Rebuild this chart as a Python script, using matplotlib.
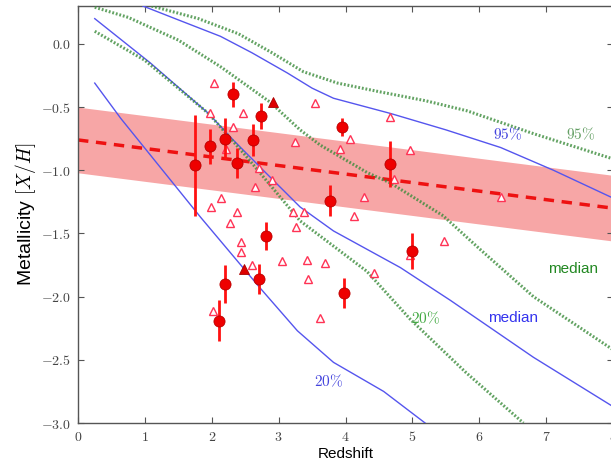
import numpy as np
import matplotlib
matplotlib.use("Agg")
import matplotlib.pyplot as plt
from matplotlib.ticker import FuncFormatter

plt.rcParams['mathtext.fontset'] = 'cm'
plt.rcParams['font.family'] = ['Liberation Sans', 'DejaVu Sans']

# ---- data ----
circ_z = [1.75, 1.98, 2.11, 2.20, 2.20, 2.31, 2.37, 2.62, 2.70, 2.74, 2.81, 3.77, 3.94, 3.97, 4.67, 5.00]
circ_m = [-0.96, -0.81, -2.19, -1.90, -0.75, -0.40, -0.94, -0.76, -1.86, -0.57, -1.52, -1.24, -0.66, -1.97, -0.95, -1.64]
circ_err = [0.40, 0.14, 0.16, 0.15, 0.16, 0.10, 0.12, 0.13, 0.12, 0.10, 0.11, 0.12, 0.07, 0.12, 0.18, 0.14]

ftri_z = [2.92, 2.48]
ftri_m = [-0.46, -1.78]

otri_z = [2.03, 1.98, 2.46, 3.55, 2.31, 2.22, 3.25, 2.71, 2.90, 2.65, 2.14, 1.99, 2.37, 2.28,
          2.44, 2.44, 2.60, 3.05, 3.43, 3.44, 3.26, 3.22, 3.38, 2.02, 3.62, 4.66, 4.06, 3.92,
          4.96, 4.72, 4.28, 4.12, 5.48, 4.97, 3.70, 4.42, 6.32]
otri_m = [-0.31, -0.55, -0.55, -0.47, -0.66, -0.83, -0.78, -0.98, -1.08, -1.13, -1.22, -1.29, -1.33, -1.42,
          -1.57, -1.65, -1.75, -1.72, -1.71, -1.86, -1.45, -1.33, -1.33, -2.11, -2.17, -0.58, -0.75, -0.83,
          -0.84, -1.07, -1.21, -1.36, -1.56, -1.67, -1.73, -1.81, -1.21]

fit_z = [0.0, 8.0]
fit_m = [-0.76, -1.30]
fit_halfwidth = 0.26

blue95_z = [0.97, 1.5, 2.13, 2.6, 3.13, 3.5, 3.82, 4.67, 5.5, 6.32, 7.11, 8.0]
blue95_m = [0.30, 0.19, 0.06, -0.07, -0.23, -0.35, -0.43, -0.55, -0.68, -0.82, -1.00, -1.22]
bluemed_z = [0.25, 1.08, 1.95, 2.32, 2.77, 3.32, 3.82, 4.82, 5.57, 6.81, 8.0]
bluemed_m = [0.20, -0.15, -0.55, -0.76, -1.00, -1.29, -1.48, -1.77, -2.03, -2.48, -2.87]
blue20_z = [0.25, 0.64, 1.83, 2.72, 3.28, 3.82, 4.57, 5.19]
blue20_m = [-0.31, -0.59, -1.37, -1.93, -2.27, -2.52, -2.75, -3.0]

green95_z = [1.1, 1.8, 2.4, 2.9, 3.37, 3.88, 4.52, 5.2, 5.82, 6.81, 8.0]
green95_m = [0.30, 0.20, 0.08, -0.07, -0.22, -0.31, -0.38, -0.45, -0.53, -0.71, -0.91]
greenmed_z = [0.25, 0.75, 1.5, 2.13, 2.87, 3.32, 3.62, 4.33, 4.67, 5.46, 6.0, 6.81, 8.0]
greenmed_m = [0.29, 0.21, 0.03, -0.18, -0.46, -0.68, -0.80, -1.02, -1.10, -1.36, -1.62, -2.0, -2.42]
green20_z = [0.25, 1.0, 1.95, 2.5, 3.32, 3.62, 4.32, 4.97, 5.8, 6.66]
green20_m = [0.10, -0.13, -0.55, -0.88, -1.40, -1.52, -1.80, -2.18, -2.6, -3.0]

xticks = [0, 1, 2, 3, 4, 5, 6, 7, 8]
yticks = [0.0, -0.5, -1.0, -1.5, -2.0, -2.5, -3.0]

# ---- figure ----
fig = plt.figure(figsize=(6.11, 4.65), dpi=100)
ax = fig.add_axes([0.1277, 0.0903, 0.8756, 0.8968])
ax.set_xlim(0, 8)
ax.set_ylim(-3.0, 0.3)

fz = np.array(fit_z)
fm = np.array(fit_m)
ax.fill_between(fz, fm - fit_halfwidth, fm + fit_halfwidth, color='#f7a6a6', lw=0, zorder=1)
ax.plot(fz, fm, color='#ee1111', ls=(0, (3, 2.2)), lw=2.5, zorder=2)

bcol = '#5555ee'
gcol = '#3c8c3c'
ax.plot(blue95_z, blue95_m, color=bcol, lw=1.0, zorder=3)
ax.plot(bluemed_z, bluemed_m, color=bcol, lw=1.0, zorder=3)
ax.plot(blue20_z, blue20_m, color=bcol, lw=1.0, zorder=3)
for zz, mm in [(green95_z, green95_m), (greenmed_z, greenmed_m), (green20_z, green20_m)]:
    ax.plot(zz, mm, color=gcol, lw=2.2, ls=(0, (0.6, 0.6)), alpha=0.8, zorder=3)

ax.plot(otri_z, otri_m, ls='none', marker='^', ms=5.5, mfc='white', mec='#ff3355', mew=1.0, zorder=4)
ax.plot(ftri_z, ftri_m, ls='none', marker='^', ms=7, mfc='#dd0000', mec='#aa0000', mew=0.6, zorder=5)
ax.errorbar(circ_z, circ_m, yerr=circ_err, fmt='o', color='#ee0000', ecolor='#ff1111', elinewidth=2,
            ms=8, mec='#bb0000', mew=0.6, capsize=0, zorder=6)

# curve labels
ax.text(6.42, -0.71, r'$95\%$', color='#4444dd', fontsize=11, ha='center', va='center')
ax.text(7.51, -0.71, r'$95\%$', color='#66a066', fontsize=11, ha='center', va='center')
ax.text(7.40, -1.78, 'median', color='#228822', fontsize=11, ha='center', va='center')
ax.text(6.51, -2.17, 'median', color='#3333ee', fontsize=11, ha='center', va='center')
ax.text(5.19, -2.17, r'$20\%$', color='#44aa44', fontsize=11, ha='center', va='center')
ax.text(3.74, -2.67, r'$20\%$', color='#4444dd', fontsize=11, ha='center', va='center')

ax.set_xticks(xticks)
ax.set_yticks(yticks)
ax.xaxis.set_major_formatter(FuncFormatter(lambda v, p: r'$%d$' % v))
ax.yaxis.set_major_formatter(FuncFormatter(lambda v, p: r'$%.1f$' % v))
ax.tick_params(direction='in', top=True, right=True, length=4, width=0.8, color='#555555',
               labelsize=10, labelcolor='#444444', pad=5)
for s in ax.spines.values():
    s.set_color('#555555')
    s.set_linewidth(1.0)

ax.set_xlabel('Redshift', fontsize=11, labelpad=2)
ax.set_ylabel(r'Metallicity $[X/H]$', fontsize=14, labelpad=2)

fig.savefig('out.png', dpi=100)
